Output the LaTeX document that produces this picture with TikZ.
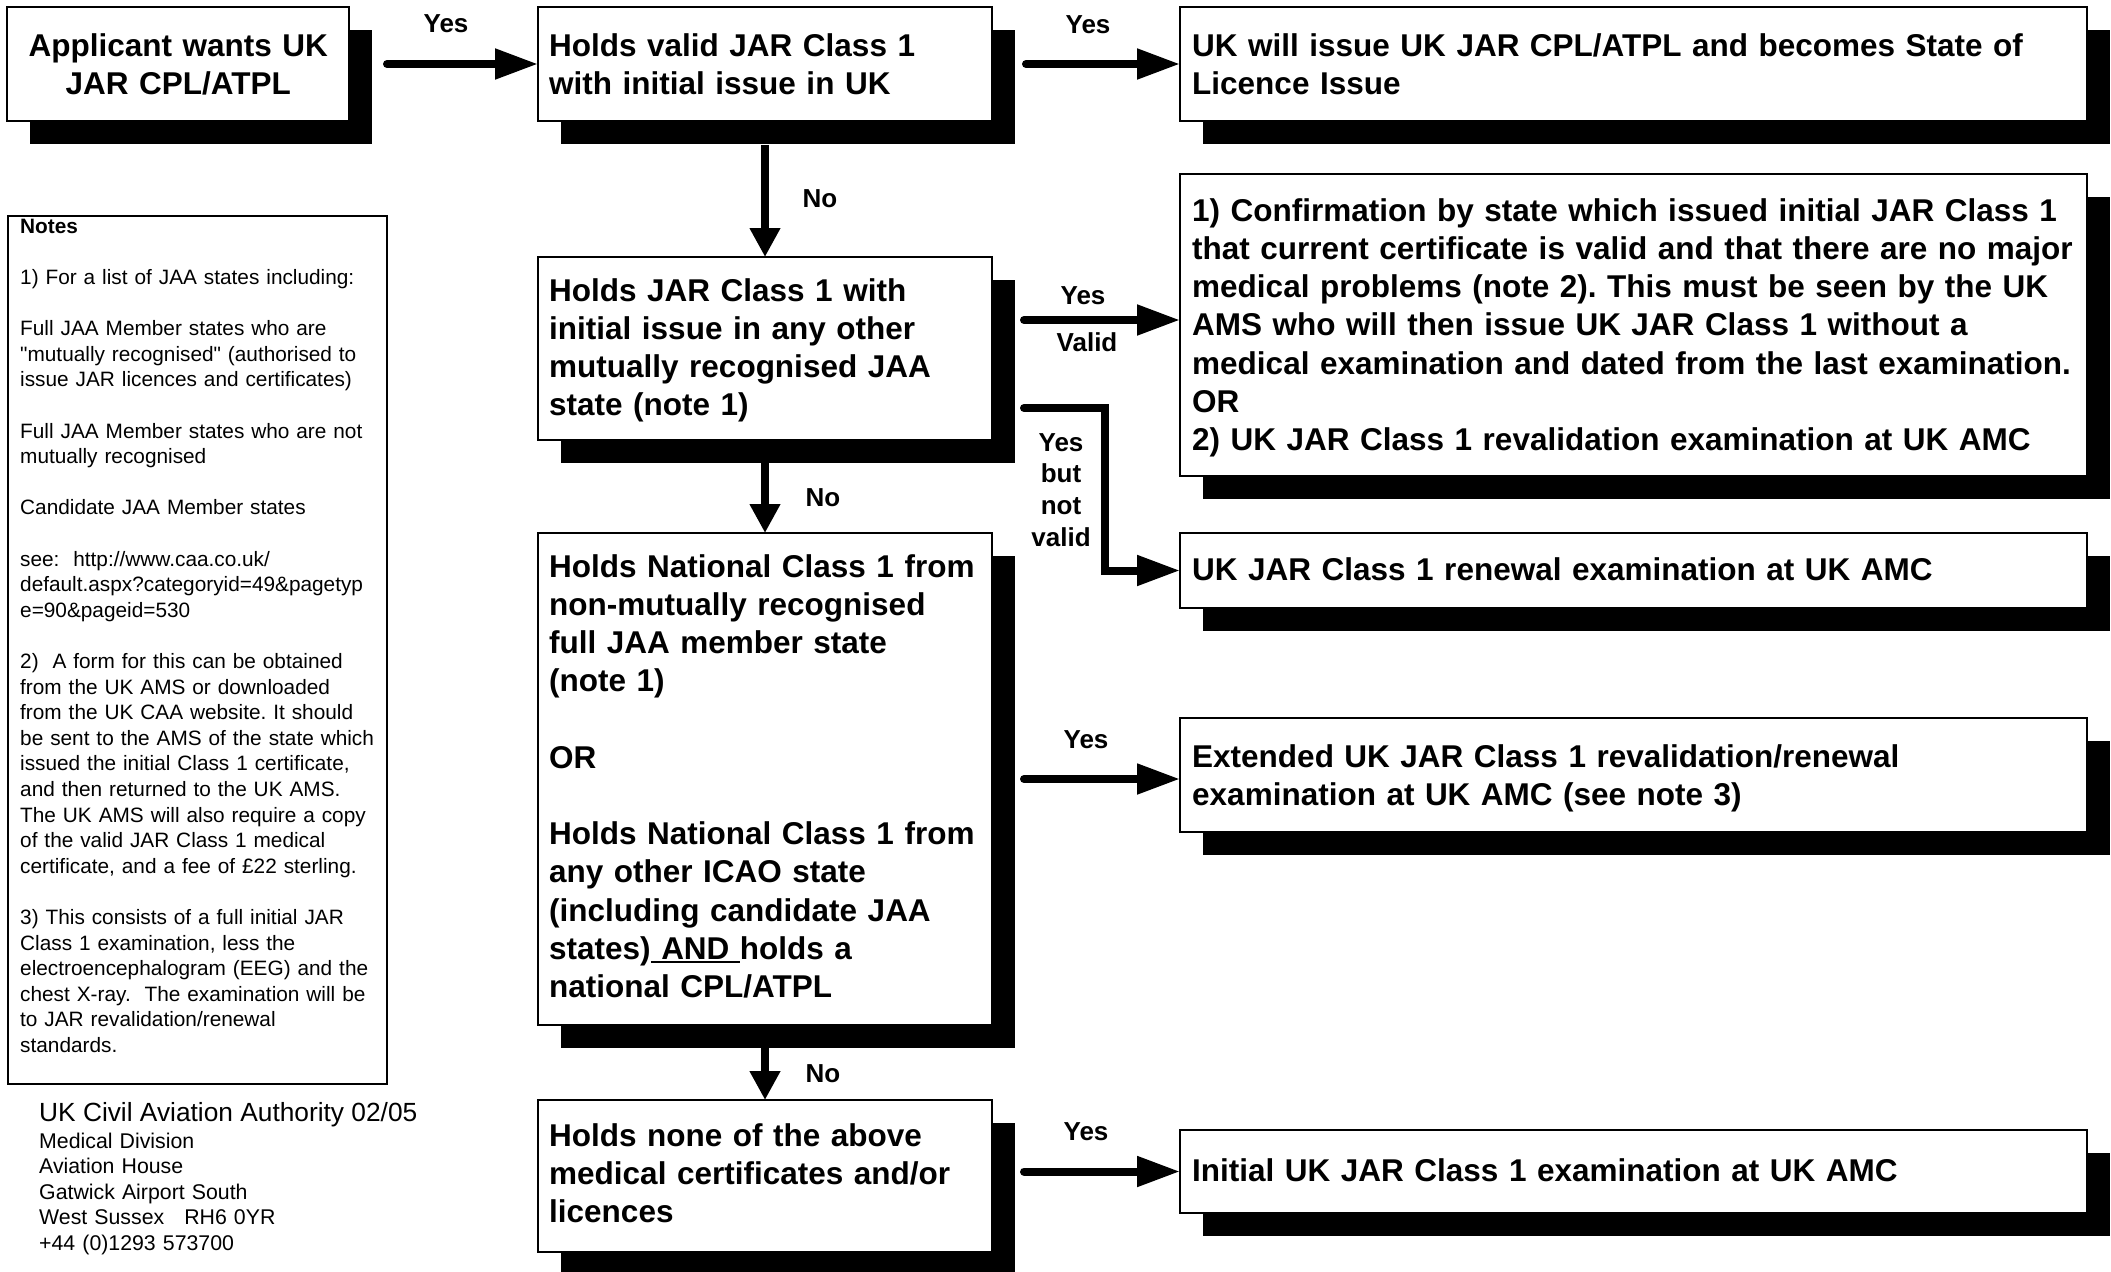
\documentclass[tikz,border=0pt]{standalone}
\usepackage{fontspec}
\setmainfont{Liberation Sans}[Ligatures=TeXOff]
\usetikzlibrary{arrows.meta,shadows,calc}
\newcommand\bxfont{\fontsize{31.5}{38.2}\selectfont\bfseries\frenchspacing}
\newcommand\lblfont{\fontsize{26}{31.7}\selectfont\bfseries}
\newcommand\notefont{\fontsize{20.8}{25.6}\selectfont\frenchspacing}
\newcommand\hstrut[1]{\rule{0pt}{#1}}
\newcommand\ulbox[1]{\setbox0\hbox{#1}\rlap{\rule[-4pt]{\wd0}{2.5pt}}\box0}
\begin{document}
\begin{tikzpicture}[x=1pt,y=-1pt,
  box/.style={draw=black, line width=1.5pt, fill=white, anchor=north west, inner sep=0pt, outer sep=0pt,
    drop shadow={shadow xshift=23pt, shadow yshift=-23pt, fill=black, opacity=1}},
  notebox/.style={draw=black, line width=1.5pt, fill=white, anchor=north west, inner sep=0pt, outer sep=0pt},
  btxt/.style={anchor=north west, inner sep=0pt, text width=1000pt, align=left, font=\bxfont},
  lbl/.style={anchor=base, inner sep=0pt, font=\lblfont},
  conn/.style={line width=8pt, line cap=round, -{Triangle[length=43pt,width=29pt]}},
  vconn/.style={line width=8pt, -{Triangle[length=29pt,width=29pt]}},
]
\fill[white, use as bounding box] (0,0) rectangle (2111,1271);
\clip (0,0) rectangle (2111,1271);

% boxes
\node[box, minimum width=342pt, minimum height=114pt] (A) at (7,7) {};
\node[box, minimum width=454pt, minimum height=114pt] (B) at (538,7) {};
\node[box, minimum width=907pt, minimum height=114pt] (C) at (1180,7) {};
\node[box, minimum width=907pt, minimum height=302pt] (D) at (1180,174) {};
\node[box, minimum width=907pt, minimum height=75pt] (E) at (1180,533) {};
\node[box, minimum width=907pt, minimum height=114pt] (F) at (1180,718) {};
\node[box, minimum width=907pt, minimum height=83pt] (G) at (1180,1130) {};
\node[box, minimum width=454pt, minimum height=183pt] (H) at (538,257) {};
\node[box, minimum width=454pt, minimum height=492pt] (I) at (538,533) {};
\node[box, minimum width=454pt, minimum height=152pt] (J) at (538,1100) {};
\node[notebox, minimum width=379pt, minimum height=868pt] (N) at (8,216) {};

% box texts
\node[btxt, text width=342pt, align=center] (tA) at (7,31) {\hstrut{25pt}Applicant wants UK\\JAR CPL/ATPL};
\node[btxt] (tB) at (549,31) {\hstrut{25pt}Holds valid JAR Class 1\\with initial issue in UK};
\node[btxt] (tC) at (1192,31) {\hstrut{25pt}UK will issue UK JAR CPL/ATPL and becomes State of\\Licence Issue};
\node[btxt] (tD) at (1192,196) {\hstrut{25pt}1) Confirmation by state which issued initial JAR Class 1\\that current certificate is valid and that there are no major\\medical problems (note 2). This must be seen by the UK\\AMS who will then issue UK JAR Class 1 without a\\medical examination and dated from the last examination.\\OR\\2) UK JAR Class 1 revalidation examination at UK AMC};
\node[btxt] (tE) at (1192,555) {\hstrut{25pt}UK JAR Class 1 renewal examination at UK AMC};
\node[btxt] (tF) at (1192,742) {\hstrut{25pt}Extended UK JAR Class 1 revalidation/renewal\\examination at UK AMC (see note 3)};
\node[btxt] (tG) at (1192,1156) {\hstrut{25pt}Initial UK JAR Class 1 examination at UK AMC};
\node[btxt] (tH) at (549,276) {\hstrut{25pt}Holds JAR Class 1 with\\initial issue in any other\\mutually recognised JAA\\state (note 1)};
\node[btxt] (tI) at (549,552) {\hstrut{25pt}Holds National Class 1 from\\non-mutually recognised\\full JAA member state\\(note 1)\\\mbox{}\\OR\\\mbox{}\\Holds National Class 1 from\\any other ICAO state\\(including candidate JAA\\states)\ulbox{ AND }holds a\\national CPL/ATPL};
\node[btxt] (tJ) at (549,1121) {\hstrut{25pt}Holds none of the above\\medical certificates and/or\\licences};

% notes
\node[anchor=north west, inner sep=0pt, text width=400pt, align=left, font=\notefont] (tN) at (20,215) {\hstrut{18pt}\textbf{Notes}\\\mbox{}\\1) For a list of JAA states including:\\\mbox{}\\Full JAA Member states who are\\"mutually recognised" (authorised to\\issue JAR licences and certificates)\\\mbox{}\\Full JAA Member states who are not\\mutually recognised\\\mbox{}\\Candidate JAA Member states\\\mbox{}\\see:\ \ http://www.caa.co.uk/\\default.aspx?categoryid=49\&pagetyp\\e=90\&pageid=530\\\mbox{}\\2)\ \ A form for this can be obtained\\from the UK AMS or downloaded\\from the UK CAA website. It should\\be sent to the AMS of the state which\\issued the initial Class 1 certificate,\\and then returned to the UK AMS.\\The UK AMS will also require a copy\\of the valid JAR Class 1 medical\\certificate, and a fee of £22 sterling.\\\mbox{}\\3) This consists of a full initial JAR\\Class 1 examination, less the\\electroencephalogram (EEG) and the\\chest X-ray.\ \ The examination will be\\to JAR revalidation/renewal\\standards.};

% footer
\node[anchor=north west, inner sep=0pt, font=\fontsize{26.3}{30}\selectfont] (ft1) at (39,1101) {\hstrut{20pt}UK Civil Aviation Authority 02/05};
\node[anchor=north west, inner sep=0pt, text width=400pt, align=left, font=\fontsize{21.3}{25.5}\selectfont] (ft2) at (39,1130) {\hstrut{18pt}Medical Division\\Aviation House\\Gatwick Airport South\\West Sussex\hspace{20pt}RH6 0YR\\+44 (0)1293 573700};

% connectors
\draw[conn, shorten <=38pt] (A.east) -- (B.west);
\draw[conn, shorten <=34pt] (B.east) -- (C.west);
\draw[vconn, shorten <=24pt] (B.south) -- (H.north);
\coordinate (hdE) at ($(D.west)+(0,-5)$);
\draw[conn, shorten <=32pt] (H.east |- hdE) -- (hdE);
\coordinate (hk) at (1105,408);
\draw[conn, shorten <=32pt] (H.east |- hk) -- (hk) |- (E.west);
\draw[vconn, shorten <=23pt] (H.south) -- (I.north);
\draw[conn, shorten <=32pt] (I.east) -- (I.east -| F.west);
\draw[vconn, shorten <=23pt] (I.south) -- (J.north);
\draw[conn, shorten <=32pt] (J.east |- G.west) -- (G.west);

% labels
\node[lbl] (y1) at (446,33) {Yes};
\node[lbl] (y2) at (1088,34) {Yes};
\node[lbl] (n1) at (820,207) {No};
\node[lbl] (y3) at (1083,304) {Yes};
\node[lbl] (v1) at (1087,351) {Valid};
\node[anchor=north, inner sep=0pt, text width=90pt, align=center, font=\lblfont] (ybnv) at (1061,431) {\hstrut{20pt}Yes\\but\\not\\valid};
\node[lbl] (n2) at (823,506) {No};
\node[lbl] (y4) at (1086,748) {Yes};
\node[lbl] (n3) at (823,1082) {No};
\node[lbl] (y5) at (1086,1140) {Yes};
\end{tikzpicture}
\end{document}
